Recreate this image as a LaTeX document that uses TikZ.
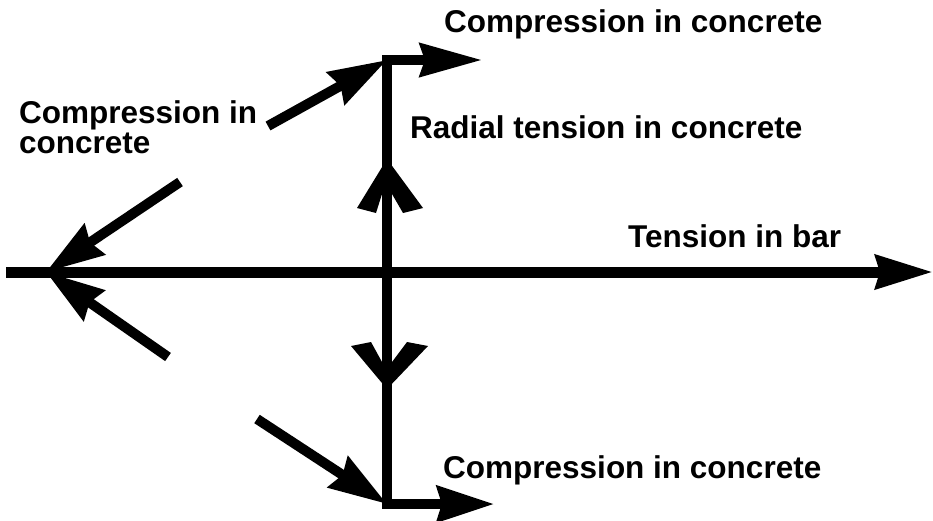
\documentclass[tikz,border=0pt]{standalone}
\usepackage{fontspec}
\setmainfont{Liberation Sans}
\usetikzlibrary{arrows.meta}
\tikzset{
  lbl/.style={font=\fontsize{31.5}{36}\selectfont\bfseries, inner sep=0pt, anchor=base west},
  force/.style={line width=10pt, line join=miter, -{Stealth[length=58pt,width=36pt,inset=5pt]}},
  vhead/.style={fill=black, draw=none}
}
\begin{document}
\begin{tikzpicture}[x=1pt,y=-1pt]
\useasboundingbox (0,0) rectangle (933,520);
% named points
\coordinate (L) at (6,272);
\coordinate (R) at (933,272);
\coordinate (A) at (46,272);
\coordinate (T) at (387,60);
\coordinate (B) at (387,504);
\coordinate (M) at (387,272);
\coordinate (TR) at (482,60);
\coordinate (BR) at (494,504);
\coordinate (td) at (268,126);
\coordinate (bd) at (257,419);
\coordinate (lu) at (180,182);
\coordinate (ll) at (168,357);
% bar
\draw[line width=11pt, -{Stealth[length=57pt,width=33pt,inset=4pt]}] (L) -- (R);
% vertical with corner arrows
\draw[line width=9.5pt, line join=miter, -{Stealth[length=62pt,width=33pt,inset=5pt]}] (M) -- (T) -- (TR);
\draw[line width=9.5pt, line join=miter, -{Stealth[length=57pt,width=36pt,inset=5pt]}] (M) -- (B) -- (BR);
% diagonal arrows
\draw[force] (td) -- (T);
\draw[force] (bd) -- (B);
\draw[force] (lu) -- (A);
\draw[force] (ll) -- (A);
% V heads on vertical
\fill[vhead] (387,159) -- (423,208) -- (403,213) -- (392,194) -- (382,194) -- (376,213) -- (357,208) -- cycle;
\fill[vhead] (387,389) -- (351,346) -- (371,342) -- (382,362) -- (392,362) -- (407,342) -- (428,346) -- cycle;
% labels
\node[lbl] (ctop) at (444,32) {Compression in concrete};
\node[lbl] (rad) at (410,138) {Radial tension in concrete};
\node[lbl] (cl1) at (19,123) {Compression in};
\node[lbl] (cl2) at (19,153) {concrete};
\node[lbl] (tb) at (628,247) {Tension in bar};
\node[lbl] (cbot) at (443,478) {Compression in concrete};
\end{tikzpicture}
\end{document}
